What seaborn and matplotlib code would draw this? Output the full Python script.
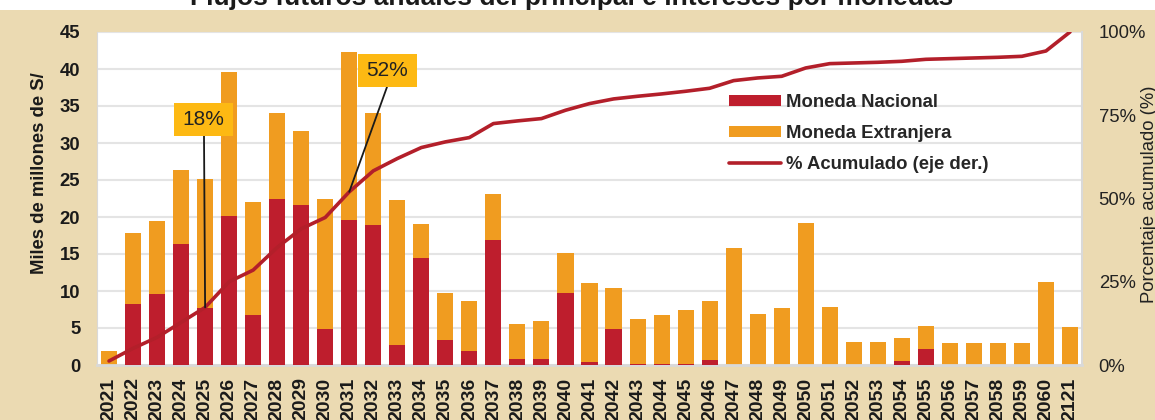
import numpy as np
import matplotlib
matplotlib.use("Agg")
import matplotlib.pyplot as plt
import seaborn as sns
from matplotlib.patches import Rectangle
from matplotlib.lines import Line2D
from matplotlib.ticker import FixedLocator

# Data (miles de millones de S/)
years = [str(y) for y in range(2021, 2061)] + ["2121"]
total = [1.9, 17.8, 19.4, 26.3, 25.1, 39.6, 22.0, 34.0, 31.6, 22.5,
         42.3, 34.0, 22.3, 19.1, 9.7, 8.6, 23.1, 5.5, 5.9, 15.1,
         11.1, 10.4, 6.2, 6.75, 7.4, 8.7, 15.75, 6.9, 7.65, 19.2,
         7.9, 3.1, 3.1, 3.65, 5.3, 3.0, 3.0, 3.0, 3.0, 11.25, 5.2]
nacional = [0.0, 8.3, 9.6, 16.4, 7.7, 20.2, 6.7, 22.4, 21.6, 4.8,
            19.6, 18.9, 2.7, 14.4, 3.4, 1.9, 16.9, 0.85, 0.85, 9.7,
            0.45, 4.8, 0.1, 0.1, 0.1, 0.7, 0.0, 0.0, 0.0, 0.0,
            0.0, 0.0, 0.0, 0.55, 2.2, 0.0, 0.0, 0.0, 0.0, 0.0, 0.0]
acumulado = [1.2, 5.0, 8.3, 12.8, 17.3, 25.0, 28.5, 35.3, 40.9, 44.3,
             52.0, 58.3, 62.0, 65.3, 67.0, 68.3, 72.5, 73.3, 74.0, 76.5,
             78.5, 79.9, 80.7, 81.4, 82.2, 83.1, 85.4, 86.2, 86.7, 89.2,
             90.5, 90.7, 90.9, 91.2, 91.8, 92.0, 92.2, 92.4, 92.7, 94.3, 100.0]
callouts = [(4, "18%"), (10, "52%")]

title = "Flujos futuros anuales del principal e intereses por monedas"

RED = "#BE1E2D"
ORANGE = "#F09C20"
LINE = "#B31F2A"
YELLOW = "#FDB913"
PARCH = "#EBDAB2"
GRID = "#E4E4E4"

sns.set_style("white")
plt.rcParams["font.family"] = ["Liberation Sans", "DejaVu Sans"]

W, H = 1155, 420
fig = plt.figure(figsize=(W / 100, H / 100), dpi=100, facecolor=PARCH)
fig.patches.append(Rectangle((0, 1 - 10 / H), 1, 10 / H, transform=fig.transFigure,
                             facecolor="white", edgecolor="none", zorder=0))

x0, x1, y0, y1 = 97, 1082, 32, 365
ax = fig.add_axes([x0 / W, 1 - y1 / H, (x1 - x0) / W, (y1 - y0) / H])
ax.set_facecolor("white")

sns.barplot(x=years, y=total, color=ORANGE, width=0.67, saturation=1,
            edgecolor="none", ax=ax, zorder=2)
sns.barplot(x=years, y=nacional, color=RED, width=0.67, saturation=1,
            edgecolor="none", ax=ax, zorder=3)

ax.set_ylim(0, 45)
ax.set_yticks(np.arange(0, 46, 5))
ax.set_xlim(-0.5, len(years) - 0.5)
ax.yaxis.grid(True, color=GRID, lw=1.5)
ax.set_axisbelow(True)
ax.tick_params(axis="y", length=0, pad=12, labelsize=13.3, colors="#1a1a1a")
ax.tick_params(axis="x", which="major", length=0, pad=9, labelsize=14,
               rotation=90, colors="#1a1a1a")
ax.xaxis.set_minor_locator(FixedLocator(np.arange(-0.5, len(years), 1)))
ax.tick_params(axis="x", which="minor", length=5, width=1.5, color="#D9D9D9")
for lab in ax.get_xticklabels() + ax.get_yticklabels():
    lab.set_fontweight("bold")
ax.set_xlabel("")
ax.set_ylabel("")
ax.spines["top"].set_visible(False)
for s in ["left", "right", "bottom"]:
    ax.spines[s].set_color("#D9D9D9")
ax.spines["bottom"].set_linewidth(2)
ax.spines["right"].set_linewidth(1.5)

# cumulative line on the right axis
ax2 = ax.twinx()
sns.lineplot(x=np.arange(len(years)), y=acumulado, color=LINE, lw=2.6, ax=ax2)
ax2.set_ylim(0, 100)
ax2.set_yticks([0, 25, 50, 75, 100])
ax2.set_yticklabels([f"{v}%" for v in [0, 25, 50, 75, 100]])
ax2.tick_params(axis="y", length=0, pad=12, labelsize=13.3, colors="#222222")
ax2.set_ylabel("")
for s in ax2.spines.values():
    s.set_visible(False)

# callout boxes
for idx, txt in callouts:
    if txt == "18%":
        bx, by = 174, 103
        lx, ly = 204, 136
    else:
        bx, by = 358, 54
        lx, ly = 387, 87
    rx = (bx - x0) / (x1 - x0)
    ry = (y1 - by - 33) / (y1 - y0)
    ax2.add_patch(Rectangle((rx, ry), 59 / (x1 - x0), 33 / (y1 - y0),
                            transform=ax2.transAxes, facecolor=YELLOW,
                            edgecolor="none", zorder=6, clip_on=False))
    ax2.text(rx + 29.5 / (x1 - x0), ry + 16.5 / (y1 - y0), txt,
             transform=ax2.transAxes, ha="center", va="center",
             fontsize=15, color="#222222", zorder=7)
    ax2.annotate("", xy=(idx, acumulado[idx]), xycoords="data",
                 xytext=((lx - x0) / (x1 - x0), (y1 - ly) / (y1 - y0)),
                 textcoords="axes fraction",
                 arrowprops=dict(arrowstyle="-", color="#1a1a1a", lw=1.3,
                                 shrinkA=0, shrinkB=0), zorder=5)

handles = [Rectangle((0, 0), 1, 1, facecolor=RED, edgecolor="none"),
           Rectangle((0, 0), 1, 1, facecolor=ORANGE, edgecolor="none"),
           Line2D([], [], color=LINE, lw=2.6)]
labels = ["Moneda Nacional", "Moneda Extranjera", "% Acumulado (eje der.)"]
ax2.legend(handles, labels, loc="upper left",
           bbox_to_anchor=((729 - x0) / (x1 - x0), (y1 - 94) / (y1 - y0)),
           frameon=False, borderpad=0, borderaxespad=0,
           handlelength=2.8, handleheight=0.55, handletextpad=0.3,
           labelspacing=0.76, prop={"weight": "bold", "size": 13.3})

fig.text(572 / W, 1 - 5 / H, title, ha="center", va="baseline",
         fontsize=19, fontweight="bold", color="#1a1a1a")
fig.text(40 / W, 1 - 173 / H, "Miles de millones de S/", rotation=90,
         ha="center", va="center", fontsize=13.3, fontweight="bold", color="#1a1a1a")
fig.text(1149 / W, 1 - 194 / H, "Porcentaje acumulado (%)", rotation=90,
         ha="center", va="center", fontsize=13.3, color="#222222")

fig.savefig("out.png", dpi=100, facecolor=PARCH)
